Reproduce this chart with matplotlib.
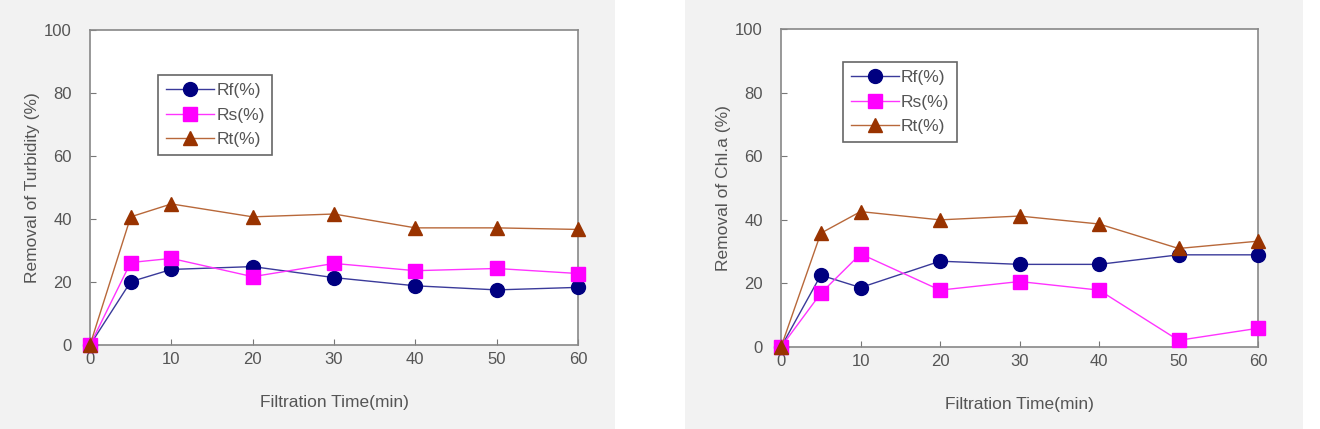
import matplotlib
matplotlib.use("Agg")
import matplotlib.pyplot as plt

time = [0, 5, 10, 20, 30, 40, 50, 60]

# turbidity removal (%)
turb_rf = [0, 20.1, 24.0, 24.9, 21.4, 18.8, 17.5, 18.3]
turb_rs = [0, 26.2, 27.5, 21.7, 25.9, 23.6, 24.3, 22.7]
turb_rt = [0, 40.7, 44.8, 40.7, 41.6, 37.2, 37.2, 36.7]

# chl.a removal (%)
chl_rf = [0, 22.6, 18.7, 27.0, 26.0, 26.0, 29.0, 29.0]
chl_rs = [0, 16.9, 29.3, 17.9, 20.6, 17.9, 2.1, 5.9]
chl_rt = [0, 35.8, 42.6, 40.0, 41.2, 38.7, 31.0, 33.3]

xticks = [0, 10, 20, 30, 40, 50, 60]
yticks = [0, 20, 40, 60, 80, 100]

plt.rcParams['font.family'] = ['Liberation Sans', 'DejaVu Sans']
txt = '#555555'

fig = plt.figure(figsize=(13.2, 4.29), dpi=100)
fig.patch.set_facecolor('white')

# gray backgrounds behind each chart
for r in ([0, 0, 0.466, 1], [0.519, 0, 0.468, 1]):
    bg = fig.add_axes(r, zorder=-1)
    bg.set_facecolor('#f2f2f2')
    bg.set_xticks([])
    bg.set_yticks([])
    for s in bg.spines.values():
        s.set_visible(False)


def panel(rect, rf, rs, rt, ylabel, leg_pos):
    ax = fig.add_axes(rect)
    ax.plot(time, rf, color='#3a3a9a', lw=1, marker='o', ms=10,
            mfc='#000080', mec='#000080', label='Rf(%)', clip_on=False, zorder=3)
    ax.plot(time, rs, color='#ff33ff', lw=1, marker='s', ms=10,
            mfc='#ff00ff', mec='#ff00ff', label='Rs(%)', clip_on=False, zorder=3)
    ax.plot(time, rt, color='#b8683a', lw=1, marker='^', ms=10,
            mfc='#993300', mec='#993300', label='Rt(%)', clip_on=False, zorder=3)
    ax.set_xlim(0, 60)
    ax.set_ylim(0, 100)
    ax.set_xticks(xticks)
    ax.set_yticks(yticks)
    ax.tick_params(direction='in', length=4, color='#777777', labelcolor=txt,
                   labelsize=12)
    ax.tick_params(axis='x', pad=5)
    ax.tick_params(axis='y', pad=13)
    for s in ax.spines.values():
        s.set_color('#888888')
        s.set_linewidth(1.2)
    ax.set_xlabel('Filtration Time(min)', color=txt, fontsize=12.5, labelpad=20)
    ax.set_ylabel(ylabel, color=txt, fontsize=12.5, labelpad=3)
    leg = ax.legend(loc='upper left', bbox_to_anchor=leg_pos,
                    bbox_transform=fig.transFigure, fontsize=12.5, handlelength=2.8,
                    handletextpad=0.1, labelspacing=0.55, borderpad=0.45,
                    borderaxespad=0, fancybox=False, framealpha=1, labelcolor=txt)
    leg.get_frame().set_edgecolor('#666666')
    leg.get_frame().set_linewidth(1.2)
    return ax


panel([0.0682, 0.1958, 0.3697, 0.734], turb_rf, turb_rs, turb_rt,
      'Removal of Turbidity (%)', (0.1197, 0.825))
panel([0.5917, 0.1911, 0.3614, 0.741], chl_rf, chl_rs, chl_rt,
      'Removal of Chl.a (%)', (0.6386, 0.8555))

fig.savefig('out.png', dpi=100, facecolor='white')
